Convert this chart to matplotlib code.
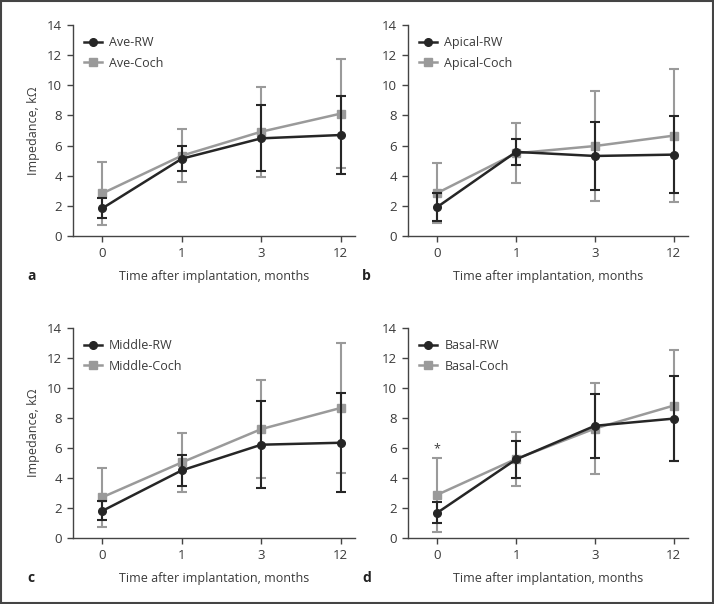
import matplotlib.pyplot as plt
from matplotlib.patches import Rectangle
from matplotlib.lines import Line2D

plt.rcParams['font.family'] = ['Open Sans', 'DejaVu Sans']

months = ["0", "1", "3", "12"]
panels = ["a", "b", "c", "d"]
names = ["Ave", "Apical", "Middle", "Basal"]

ave_rw = [1.84, 5.13, 6.48, 6.70]
ave_rw_sd = [0.67, 0.82, 2.18, 2.61]
ave_coch = [2.83, 5.33, 6.92, 8.12]
ave_coch_sd = [2.09, 1.78, 2.98, 3.60]

apical_rw = [1.92, 5.58, 5.31, 5.40]
apical_rw_sd = [0.90, 0.88, 2.25, 2.58]
apical_coch = [2.85, 5.49, 5.97, 6.66]
apical_coch_sd = [2.00, 2.00, 3.63, 4.39]

middle_rw = [1.81, 4.51, 6.22, 6.35]
middle_rw_sd = [0.63, 1.02, 2.91, 3.30]
middle_coch = [2.72, 5.04, 7.26, 8.67]
middle_coch_sd = [1.96, 1.94, 3.28, 4.32]

basal_rw = [1.68, 5.24, 7.48, 7.96]
basal_rw_sd = [0.71, 1.23, 2.12, 2.81]
basal_coch = [2.88, 5.27, 7.30, 8.83]
basal_coch_sd = [2.46, 1.78, 3.06, 3.72]

rw_all = [ave_rw, apical_rw, middle_rw, basal_rw]
rw_sd_all = [ave_rw_sd, apical_rw_sd, middle_rw_sd, basal_rw_sd]
coch_all = [ave_coch, apical_coch, middle_coch, basal_coch]
coch_sd_all = [ave_coch_sd, apical_coch_sd, middle_coch_sd, basal_coch_sd]

W, H = 714, 604
fig = plt.figure(figsize=(W / 100, H / 100), dpi=100)

# axes boxes in pixels: left, top(of y=14), right, bottom(y=0)
boxes = [(73, 25, 355, 236), (408, 25, 688, 236),
         (73, 328, 355, 538), (408, 328, 688, 538)]

txt = "#3a3a3a"
rw_col = "#262626"
coch_col = "#9a9a9a"
fs = 9
x = list(range(len(months)))

for i in range(4):
    l, t, r, b = boxes[i]
    ax = fig.add_axes([l / W, 1 - b / H, (r - l) / W, (b - t) / H])
    ax.errorbar(x, coch_all[i], yerr=coch_sd_all[i], color=coch_col, marker="s",
                markersize=5.5, lw=1.8, elinewidth=1.5, capsize=3.5, capthick=1.5,
                zorder=2)
    ax.errorbar(x, rw_all[i], yerr=rw_sd_all[i], color=rw_col, marker="o",
                markersize=5.5, lw=1.8, elinewidth=1.5, capsize=3.5, capthick=1.5,
                zorder=3)
    ax.set_xlim(-0.37, 3.18)
    ax.set_ylim(0, 14)
    ax.set_yticks(range(0, 15, 2))
    ax.set_xticks(x)
    ax.set_xticklabels(months)
    for s in ["top", "right"]:
        ax.spines[s].set_visible(False)
    for s in ["left", "bottom"]:
        ax.spines[s].set_color("#444444")
        ax.spines[s].set_linewidth(1.0)
    ax.tick_params(direction="out", length=4, width=1, color="#444444",
                   labelcolor=txt, labelsize=9.5, pad=4)
    ax.set_xlabel("Time after implantation, months", color=txt, fontsize=fs, labelpad=7)
    if i % 2 == 0:
        ax.set_ylabel("Impedance, k\u03a9", color=txt, fontsize=fs, labelpad=5)
    handles = [Line2D([], [], color=rw_col, marker="o", markersize=5.5, lw=1.8),
               Line2D([], [], color=coch_col, marker="s", markersize=5.5, lw=1.8)]
    ax.legend(handles, [names[i] + "-RW", names[i] + "-Coch"], loc="upper left",
              frameon=False, fontsize=fs, handlelength=1.4, handletextpad=0.6,
              labelspacing=0.6, borderaxespad=0.6, borderpad=0.3, labelcolor=txt)
    fig.text((l - 46) / W, 1 - (b + 44) / H, panels[i], fontsize=10,
             fontweight="bold", color="#222222", ha="left", va="baseline")
    if panels[i] == "d":
        ax.text(0, basal_coch[0] + basal_coch_sd[0] + 0.2, "*", ha="center",
                va="bottom", fontsize=fs, color=txt)

fig.add_artist(Rectangle((0.002, 0.002), 0.996, 0.996, transform=fig.transFigure,
                         fill=False, edgecolor="#444444", linewidth=1.5))

fig.savefig("out.png", dpi=100)
